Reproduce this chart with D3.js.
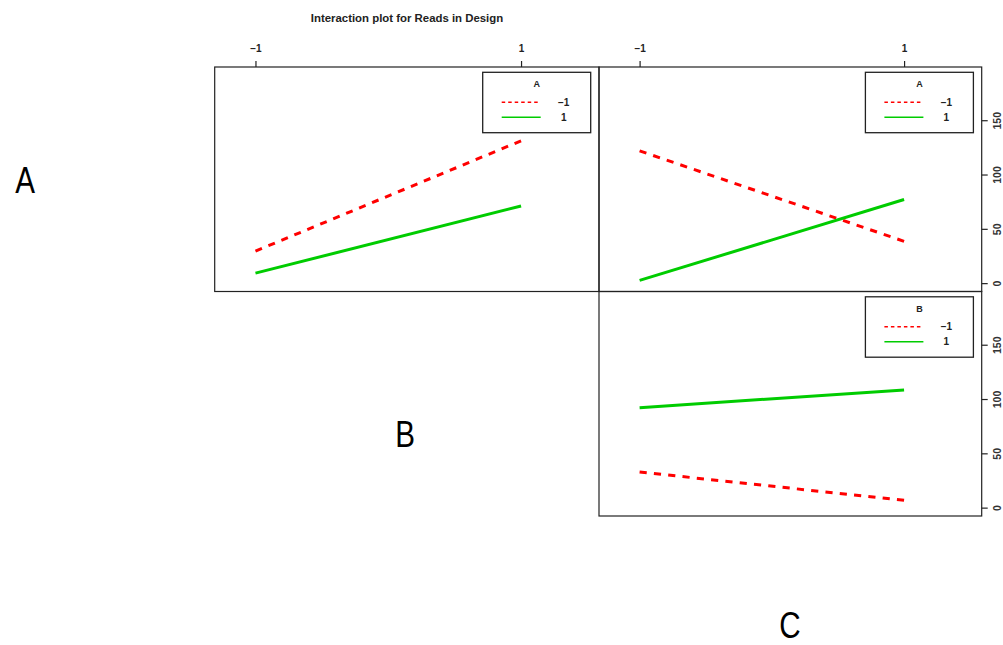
<!DOCTYPE html>
<html>
<head>
<meta charset="utf-8">
<script src="https://cdn.jsdelivr.net/npm/d3@7"></script>
<style>
  html, body { margin: 0; padding: 0; background: #fff; }
  svg { display: block; font-family: "Liberation Sans", Arial, sans-serif; }
</style>
</head>
<body>
<svg id="chart" width="1003" height="645"></svg>
<script>
// Factor levels and axis ticks
const factorLevels = [-1, 1];
const levelLabels = ["\u22121", "1"];
const yTicks = [0, 50, 100, 150];

// Mean Reads per cell (two-factor means)
const readsByB_Aneg = [29.5, 131];   // A = -1, x = B
const readsByB_Apos = [9.2, 71];     // A =  1, x = B
const readsByC_Aneg = [121.8, 38.5]; // A = -1, x = C
const readsByC_Apos = [2.5, 77];     // A =  1, x = C
const readsByC_Bneg = [32.8, 6.7];   // B = -1, x = C
const readsByC_Bpos = [92, 108.4];   // B =  1, x = C

const RED = "#ff0000", GREEN = "#00cc00";

const panels = [
  { col: 0, row: 0, legend: "A", series: [readsByB_Aneg, readsByB_Apos], topAxis: true,  rightAxis: false },
  { col: 1, row: 0, legend: "A", series: [readsByC_Aneg, readsByC_Apos], topAxis: true,  rightAxis: true },
  { col: 1, row: 1, legend: "B", series: [readsByC_Bneg, readsByC_Bpos], topAxis: false, rightAxis: true }
];

const colEdges = [214.7, 599, 981.7];
const rowEdges = [67, 291.5, 516];

const svg = d3.select("#chart");

// Title
svg.append("text")
  .attr("x", 407).attr("y", 21.5)
  .attr("text-anchor", "middle")
  .attr("font-size", 11.4).attr("font-weight", "bold")
  .attr("fill", "#222")
  .text("Interaction plot for Reads in Design");

// dash pattern stretched so the line starts and ends on a dash
function fitDash(path, dash) {
  const L = path.node().getTotalLength();
  const n = Math.max(1, Math.round((L + dash) / (2 * dash)));
  const d = L / (2 * n - 1);
  path.attr("stroke-dasharray", `${d},${d}`);
}

panels.forEach(p => {
  const x0 = colEdges[p.col], x1 = colEdges[p.col + 1];
  const y0 = rowEdges[p.row], y1 = rowEdges[p.row + 1];
  const w = x1 - x0, h = y1 - y0;

  const x = d3.scaleLinear().domain([-1.307, 1.587]).range([0, w]);
  const y = d3.scaleLinear().domain([-7.7, 199]).range([h, 0]);

  const g = svg.append("g").attr("transform", `translate(${x0},${y0})`);

  // data lines
  const line = d3.line().x((d, i) => x(factorLevels[i])).y(d => y(d));
  p.series.forEach((vals, si) => {
    const path = g.append("path")
      .datum(vals)
      .attr("d", line)
      .attr("fill", "none")
      .attr("stroke", si === 0 ? RED : GREEN)
      .attr("stroke-width", 3);
    if (si === 0) fitDash(path, 7);
  });

  // frame
  g.append("rect")
    .attr("x", 0).attr("y", 0).attr("width", w).attr("height", h)
    .attr("fill", "none").attr("stroke", "#222").attr("stroke-width", 1.2);

  // top axis
  if (p.topAxis) {
    const ax = g.append("g").call(
      d3.axisTop(x).tickValues(factorLevels).tickFormat((d, i) => levelLabels[i])
        .tickSizeInner(6).tickSizeOuter(0).tickPadding(9)
    );
    ax.select(".domain").remove();
    ax.selectAll("line").attr("stroke", "#222").attr("stroke-width", 1.2);
    ax.selectAll("text").attr("font-size", 10).attr("font-weight", "bold")
      .attr("fill", "#222").attr("font-family", "Liberation Sans, Arial, sans-serif");
  }

  // right axis
  if (p.rightAxis) {
    const ay = g.append("g").attr("transform", `translate(${w},0)`).call(
      d3.axisRight(y).tickValues(yTicks).tickSizeInner(6).tickSizeOuter(0).tickPadding(0)
    );
    ay.select(".domain").remove();
    ay.selectAll("line").attr("stroke", "#222").attr("stroke-width", 1.2);
    ay.selectAll("text")
      .attr("font-size", 10.5).attr("font-weight", "bold").attr("fill", "#333")
      .attr("font-family", "Liberation Sans, Arial, sans-serif")
      .attr("x", 0).attr("dy", 0)
      .attr("text-anchor", "middle")
      .attr("transform", "translate(16.5,0) rotate(-90)")
      .attr("dominant-baseline", "middle");
  }

  // legend
  const lx = w - 116.3, ly = 5.3, lw = 108, lh = 60.4;
  const lg = g.append("g").attr("transform", `translate(${lx},${ly})`);
  lg.append("rect").attr("width", lw).attr("height", lh)
    .attr("fill", "#fff").attr("stroke", "#222").attr("stroke-width", 1.3);
  lg.append("text").attr("x", 54).attr("y", 15).attr("text-anchor", "middle")
    .attr("font-size", 9).attr("font-weight", "bold").attr("fill", "#222")
    .text(p.legend);
  levelLabels.forEach((lab, i) => {
    const yy = 30 + i * 15;
    lg.append("line")
      .attr("x1", 19).attr("x2", 58).attr("y1", yy).attr("y2", yy)
      .attr("stroke", i === 0 ? RED : GREEN).attr("stroke-width", 1.5)
      .attr("stroke-dasharray", i === 0 ? "3.5,3" : null);
    lg.append("text").attr("x", 81).attr("y", yy + 3.5).attr("text-anchor", "middle")
      .attr("font-size", 10).attr("font-weight", "bold").attr("fill", "#222")
      .text(lab);
  });
});

// Panel letters
const letters = [
  { t: "A", x: 25, y: 193 },
  { t: "B", x: 405, y: 447 },
  { t: "C", x: 790, y: 638 }
];
letters.forEach(l => {
  svg.append("text")
    .attr("transform", `translate(${l.x},${l.y}) scale(0.8,1)`)
    .attr("text-anchor", "middle")
    .attr("font-size", 37)
    .attr("fill", "#000")
    .text(l.t);
});
</script>
</body>
</html>
